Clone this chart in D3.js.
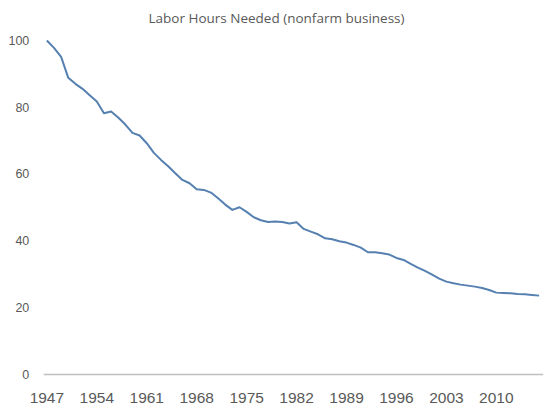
<!DOCTYPE html>
<html>
<head>
<meta charset="utf-8">
<script src="https://cdn.jsdelivr.net/npm/d3@7"></script>
<style>
  body { margin: 0; background: #fff; }
  svg { display: block; font-family: "Open Sans", sans-serif; }
  .axis text { fill: #595959; }
</style>
</head>
<body>
<div id="chart"></div>
<script>
(function() {
  'use strict';

  // years on the category axis
  var years = d3.range(1947, 2017);

  // labor hours needed, index 1947 = 100
  var hours = [
    100, 97.8, 95.1, 88.8, 87.0, 85.5, 83.6, 81.7, 78.2, 78.7,
    76.9, 74.8, 72.3, 71.5, 69.2, 66.3, 64.2, 62.3, 60.2, 58.2,
    57.2, 55.4, 55.2, 54.4, 52.7, 50.8, 49.2, 50.0, 48.6, 47.0,
    46.1, 45.6, 45.7, 45.6, 45.1, 45.5, 43.5, 42.7, 41.9, 40.7,
    40.4, 39.8, 39.4, 38.7, 37.9, 36.5, 36.5, 36.2, 35.8, 34.8,
    34.2, 33.0, 31.9, 30.9, 29.8, 28.6, 27.7, 27.2, 26.8, 26.5,
    26.2, 25.8, 25.2, 24.4, 24.3, 24.2, 24.0, 23.9, 23.7, 23.5
  ];

  var yTicks = [0, 20, 40, 60, 80, 100];
  var xTickYears = [1947, 1954, 1961, 1968, 1975, 1982, 1989, 1996, 2003, 2010];

  var width = 550,
    height = 411,
    plot = {left: 43.3, right: 542.7, top: 40.5, bottom: 374};

  var svg = d3.select('#chart').append('svg')
    .attr('width', width)
    .attr('height', height);

  var x = d3.scaleBand()
    .domain(years)
    .range([plot.left, plot.right])
    .padding(0);

  var y = d3.scaleLinear()
    .domain([0, 100])
    .range([plot.bottom, plot.top]);

  // title
  svg.append('text')
    .attr('x', 276.5)
    .attr('y', 23.3)
    .attr('text-anchor', 'middle')
    .style('fill', '#595959')
    .style('font-size', '13.5px')
    .text('Labor Hours Needed (nonfarm business)');

  // y axis (labels only)
  var yAxis = svg.append('g')
    .attr('class', 'axis')
    .attr('transform', 'translate(' + plot.left + ',0)')
    .call(d3.axisLeft(y).tickValues(yTicks).tickSize(0).tickPadding(14));
  yAxis.select('.domain').remove();
  yAxis.selectAll('text').style('font-size', '12.5px');

  // x axis
  var xAxis = svg.append('g')
    .attr('class', 'axis')
    .attr('transform', 'translate(0,' + plot.bottom + ')')
    .call(d3.axisBottom(x).tickValues(xTickYears).tickSize(0).tickPadding(18));
  xAxis.select('.domain')
    .attr('stroke', '#bfbfbf')
    .attr('stroke-width', 1.5);
  xAxis.selectAll('text').style('font-size', '15.5px');

  // line
  var line = d3.line()
    .x(function(d, i) { return x(years[i]) + x.bandwidth() / 2; })
    .y(function(d) { return y(d); });

  svg.append('path')
    .datum(hours)
    .attr('fill', 'none')
    .attr('stroke', '#5580b0')
    .attr('stroke-width', 2)
    .attr('stroke-linejoin', 'round')
    .attr('d', line);
})();
</script>
</body>
</html>
